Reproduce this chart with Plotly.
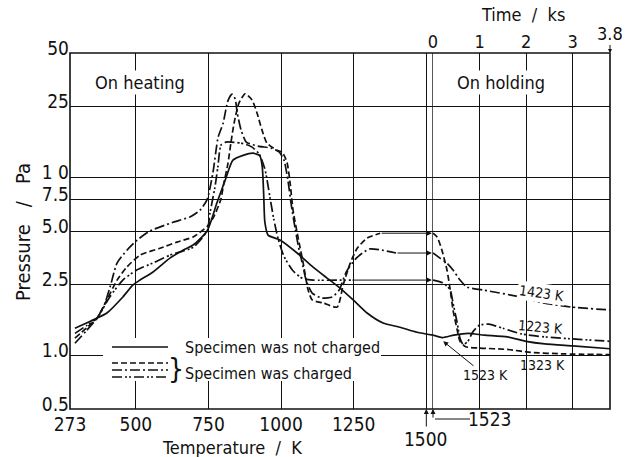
import math
import plotly.graph_objects as go

# ---------------- data ----------------
# Heating: temperature (K) vs pressure (Pa)
T_not_charged = [290, 330, 366, 400, 455, 490, 514, 559, 617, 662, 697, 745, 779, 807, 834,
                 869, 903, 927, 935, 940, 944, 955, 996, 1055, 1110, 1158, 1203, 1248, 1296,
                 1351, 1409, 1468, 1523]
P_not_charged = [1.42, 1.52, 1.62, 1.73, 2.13, 2.49, 2.65, 2.94, 3.52, 3.9, 4.17, 5.0, 7.2, 9.6, 12.5,
                 13.3, 13.7, 13.2, 11.5, 8.0, 5.6, 4.74, 4.45, 3.76, 3.13, 2.72, 2.39, 2.05, 1.73,
                 1.52, 1.44, 1.35, 1.30]

T_charged_a = [290, 330, 366, 390, 411, 435, 469, 504, 548, 628, 686, 721, 745, 765, 783, 800,
               817, 831, 842, 849, 862, 880, 920, 966, 993, 1010, 1024, 1035, 1048, 1062, 1072,
               1086, 1107, 1141, 1176, 1200, 1224, 1259, 1303, 1348, 1396]
P_charged_a = [1.17, 1.38, 1.62, 1.9, 2.42, 3.3, 3.9, 4.44, 5.0, 5.6, 6.0, 6.55, 7.5, 10.6, 16.8, 20.1,
               27.0, 29.4, 27.5, 23.0, 18.5, 15.8, 15.0, 14.6, 13.9, 12.5, 9.5, 7.0, 5.2, 3.9, 3.35,
               2.65, 2.24, 2.1, 2.13, 2.33, 2.94, 3.52, 3.96, 3.9, 3.76]

T_charged_b = [290, 330, 366, 400, 435, 469, 514, 583, 641, 697, 745, 768, 792, 803, 817, 827,
               838, 855, 876, 900, 917, 934, 951, 986, 1003, 1020, 1031, 1041, 1058, 1076, 1093,
               1107, 1145, 1193, 1214, 1238, 1262, 1296, 1341]
P_charged_b = [1.25, 1.43, 1.62, 2.05, 2.65, 3.14, 3.66, 4.0, 4.33, 4.63, 5.3, 6.0, 7.5, 9.3, 12.0, 15.6,
               20.2, 26.2, 29.5, 27.2, 23.0, 18.5, 15.6, 14.2, 13.9, 12.2, 9.3, 6.55, 4.63, 3.3, 2.33,
               2.05, 1.97, 1.87, 2.5, 3.3, 4.0, 4.56, 4.86]

T_charged_c = [290, 330, 366, 410, 455, 503, 558, 617, 697, 745, 755, 772, 782, 793, 810, 860,
               880, 900, 925, 945, 960, 975, 990, 1010, 1040, 1075, 1110, 1240]
P_charged_c = [1.33, 1.47, 1.62, 2.13, 2.65, 3.02, 3.3, 3.66, 4.05, 5.0, 6.3, 8.8, 11.4, 15.2, 15.8, 15.6,
               15.3, 14.8, 13.5, 11.0, 8.0, 5.8, 4.5, 3.6, 3.0, 2.7, 2.65, 2.65]

# Holding: time (ks) vs pressure (Pa)
t_1523 = [0, 0.2, 0.45, 0.75, 1.1, 1.6, 2.0, 2.4, 3.0, 3.8]
P_1523 = [1.30, 1.26, 1.30, 1.33, 1.30, 1.27, 1.20, 1.16, 1.13, 1.09]

t_1423 = [0, 0.15, 0.3, 0.43, 0.58, 0.73, 1.08, 1.88, 2.37, 2.96, 3.8]
P_1423 = [3.76, 3.52, 3.30, 3.02, 2.65, 2.42, 2.33, 2.13, 1.97, 1.87, 1.80]

t_1323 = [0, 0.09, 0.19, 0.3, 0.37, 0.43, 0.52, 0.58, 0.7, 1.0, 1.6, 2.1, 2.8, 3.8]
P_1323 = [4.86, 4.62, 3.91, 3.02, 2.33, 1.80, 1.39, 1.20, 1.12, 1.10, 1.08, 1.04, 1.02, 1.01]

t_1223 = [0, 0.22, 0.37, 0.43, 0.52, 0.58, 0.65, 0.75, 0.85, 1.0, 1.2, 1.5, 1.9, 2.4, 2.95, 3.8]
P_1223 = [2.65, 2.55, 2.33, 1.97, 1.52, 1.25, 1.15, 1.2, 1.35, 1.48, 1.50, 1.42, 1.32, 1.27, 1.24, 1.20]

temp_ticks = [273, 500, 750, 1000, 1250, 1500]
temp_ticktext = ["273", "500", "750", "1000", "1250", ""]
time_ticks = [0, 1, 2, 3]
p_ticks = [0.5, 1.0, 2.5, 5.0, 7.5, 10, 25, 50]
p_ticktext = ["0.5", "1.0", "2.5", "5.0", "7.5", "1 0", "25", "50"]

# ---------------- styling ----------------
FONT = "DejaVu Sans Condensed, DejaVu Sans, sans-serif"
INK = "#111111"
W, H = 627, 457
L, R, TOP, BOT = 70, 610, 53, 409
SPLIT = 433  # pixel column where holding time starts
DASH_B = "6px,3px"
DASH_A = "10px,3px,2px,3px"
DASH_C = "10px,3px,2px,2px,2px,3px"


def px(x):
    return (x - L) / (R - L)


def py(y):
    return (BOT - y) / (BOT - TOP)


fig = go.Figure()

heating = [
    (T_not_charged, P_not_charged, "solid"),
    (T_charged_b, P_charged_b, DASH_B),
    (T_charged_a, P_charged_a, DASH_A),
    (T_charged_c, P_charged_c, DASH_C),
]
for xs, ys, dash in heating:
    fig.add_trace(go.Scatter(x=xs, y=ys, mode="lines", xaxis="x", yaxis="y",
                             line=dict(color=INK, width=1.7, dash=dash, shape="spline",
                                       smoothing=0.6),
                             showlegend=False, hoverinfo="skip"))

holding = [
    (t_1523, P_1523, "solid"),
    (t_1323, P_1323, DASH_B),
    (t_1423, P_1423, DASH_A),
    (t_1223, P_1223, DASH_C),
]
for xs, ys, dash in holding:
    fig.add_trace(go.Scatter(x=xs, y=ys, mode="lines", xaxis="x2", yaxis="y",
                             line=dict(color=INK, width=1.7, dash=dash, shape="spline",
                                       smoothing=0.6),
                             showlegend=False, hoverinfo="skip"))

split_frac = px(SPLIT)
tickfont = dict(family=FONT, size=19, color=INK)

fig.update_layout(
    width=W, height=H,
    margin=dict(l=L, r=W - R, t=TOP, b=H - BOT),
    paper_bgcolor="white", plot_bgcolor="white",
    font=dict(family=FONT, color=INK),
    xaxis=dict(domain=[0, split_frac], range=[273, 1523], tickvals=temp_ticks,
               ticktext=temp_ticktext, showgrid=True, gridcolor=INK, gridwidth=1,
               zeroline=False, showline=False, ticks="", tickfont=tickfont, anchor="y",
               ticklabelstandoff=2),
    xaxis2=dict(domain=[split_frac, 1], range=[0, 3.8], tickvals=time_ticks,
                showgrid=True, gridcolor=INK, gridwidth=1, zeroline=False, showline=False,
                ticks="", side="top", anchor="y",
                tickfont=dict(family=FONT, size=18, color=INK)),
    yaxis=dict(type="log", range=[math.log10(0.5), math.log10(50)], tickvals=p_ticks,
               ticktext=p_ticktext, showgrid=True, gridcolor=INK, gridwidth=1,
               zeroline=False, showline=False, ticks="", tickfont=tickfont, anchor="x",
               ticklabelshift=-5),
)

shapes = [
    # frame
    dict(type="rect", xref="paper", yref="paper", x0=0, x1=1, y0=0, y1=1,
         line=dict(color=INK, width=1.6), layer="above"),
    # boundary between heating and holding
    dict(type="line", xref="x", yref="paper", x0=1523, x1=1523, y0=0, y1=1,
         line=dict(color=INK, width=1.4), layer="above"),
    # white panel behind the key
    dict(type="rect", xref="paper", yref="paper", x0=px(103), x1=px(381), y0=py(381), y1=py(338),
         line=dict(width=0), fillcolor="white", layer="above"),
    # key samples
    dict(type="line", xref="paper", yref="paper", x0=px(112), x1=px(168), y0=py(347), y1=py(347),
         line=dict(color=INK, width=1.7), layer="above"),
    dict(type="line", xref="paper", yref="paper", x0=px(112), x1=px(168), y0=py(363), y1=py(363),
         line=dict(color=INK, width=1.7, dash=DASH_B), layer="above"),
    dict(type="line", xref="paper", yref="paper", x0=px(112), x1=px(168), y0=py(370), y1=py(370),
         line=dict(color=INK, width=1.7, dash=DASH_A), layer="above"),
    dict(type="line", xref="paper", yref="paper", x0=px(112), x1=px(168), y0=py(377), y1=py(377),
         line=dict(color=INK, width=1.7, dash=DASH_C), layer="above"),
    # leader under the 1523 mark
    dict(type="line", xref="paper", yref="paper", x0=px(435), x1=px(470), y0=py(419), y1=py(419),
         line=dict(color=INK, width=1)),
]
fig.update_layout(shapes=shapes)

ann = []


def text(x, y, s, size=16, **kw):
    d = dict(xref="paper", yref="paper", x=px(x), y=py(y), text=s, showarrow=False,
             font=dict(family=FONT, size=size, color=INK), xanchor="center", yanchor="middle")
    d.update(kw)
    ann.append(d)


nb = "\u00a0"
text(140, 82, "On heating", 18, bgcolor="white")
text(501, 82, "On holding", 18, bgcolor="white")
text(523, 14, f"Time{nb}{nb}/{nb}{nb}ks", 18)
text(232, 447, f"Temperature{nb}{nb}/{nb}{nb}K", 18)
text(23, 232, f"Pressure{nb}{nb}{nb}/{nb}{nb}{nb}Pa", 20, textangle=-90)
text(183, 347, "Specimen was not charged", 16, xanchor="left")
text(183, 373, "Specimen was charged", 16, xanchor="left")
text(176, 369, "}", 28)
text(541, 293, "1423 K", 14, textangle=8, bgcolor="white")
text(540, 327, "1223 K", 14, textangle=5)
text(542, 365, "1323 K", 14)
text(490, 419, "1523", 19)

# arrows carrying the end of each charged heating run onto the holding axis
for xs, ys in [(T_charged_b, P_charged_b), (T_charged_a, P_charged_a), (T_charged_c, P_charged_c)]:
    ann.append(dict(xref="x", yref="y", axref="x", ayref="y",
                    x=1519, y=math.log10(ys[-1]), ax=xs[-1], ay=math.log10(ys[-1]),
                    text="", showarrow=True, arrowhead=2, arrowsize=1, arrowwidth=1,
                    arrowcolor=INK))

# 1523 K holding label with pointer
ann.append(dict(xref="x2", yref="y", x=0.22, y=math.log10(1.2), text="1523 K", showarrow=True,
                ax=42, ay=34, arrowhead=2, arrowsize=1, arrowwidth=1, arrowcolor=INK,
                font=dict(family=FONT, size=14, color=INK)))

# temperature marks below the axis
ann.append(dict(xref="x", yref="paper", x=1500, y=0, text="1500", showarrow=True, ax=0, ay=30,
                arrowhead=2, arrowsize=1, arrowwidth=1, arrowcolor=INK,
                font=dict(family=FONT, size=19, color=INK)))
ann.append(dict(xref="x", yref="paper", x=1523, y=0, text="", showarrow=True, ax=0, ay=10,
                arrowhead=2, arrowsize=1, arrowwidth=1, arrowcolor=INK))
# end of holding
ann.append(dict(xref="x2", yref="paper", x=3.8, y=1, text="3.8", showarrow=True, ax=0, ay=-20,
                arrowhead=2, arrowsize=0.8, arrowwidth=1, arrowcolor=INK,
                font=dict(family=FONT, size=18, color=INK)))

fig.update_layout(annotations=ann)

fig.write_html("out.html")
